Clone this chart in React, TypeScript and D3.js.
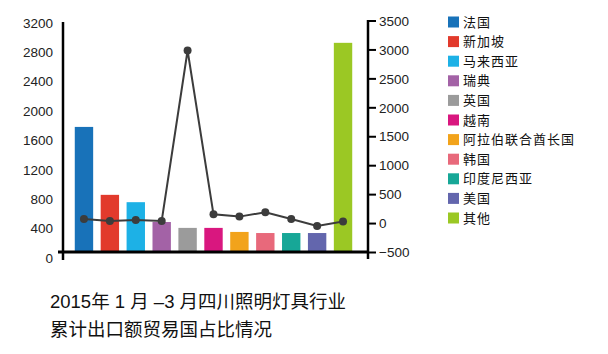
import React from "react";
import * as d3 from "d3";

const countries = [
  "法国", "新加坡", "马来西亚", "瑞典", "英国", "越南",
  "阿拉伯联合酋长国", "韩国", "印度尼西亚", "美国", "其他",
];
const barValues = [1785, 860, 760, 490, 410, 410, 355, 340, 340, 340, 2930];
const lineValues = [80, 45, 60, 45, 2990, 160, 120, 195, 80, -40, 35];
const colors = [
  "#1872b9", "#e23a2c", "#1db1e6", "#a362a6", "#9b9b9b", "#d9177f",
  "#f2a31b", "#e8697b", "#17a797", "#6366ad", "#9bc824",
];
const leftTicks = [0, 400, 800, 1200, 1600, 2000, 2400, 2800, 3200];
const rightTicks = [-500, 0, 500, 1000, 1500, 2000, 2500, 3000, 3500];

const W = 608;
const H = 354;
const BASE_Y = 252;
const FONT = "'Liberation Sans', Arial, 'Noto Sans CJK SC', sans-serif";
const CJK = "'Noto Sans CJK SC', sans-serif";

export default function App() {
  const x = d3
    .scaleBand<string>()
    .domain(countries)
    .range([67, 360])
    .paddingInner(0.29)
    .paddingOuter(0.3);
  const yLeft = d3.scaleLinear().domain([0, 3200]).range([258, 23]);
  const yRight = d3.scaleLinear().domain([-500, 3500]).range([252.5, 21]);

  const line = d3
    .line<number>()
    .x((_, i) => (x(countries[i]) || 0) + x.bandwidth() / 2)
    .y((d) => yRight(d));

  return (
    <svg
      width={W}
      height={H}
      style={{ position: "absolute", left: 0, top: 0, background: "#fff" }}
    >
      {/* bars */}
      <g>
        {countries.map((c, i) => (
          <rect
            key={c}
            x={x(c)}
            y={yLeft(barValues[i])}
            width={x.bandwidth()}
            height={BASE_Y - 1 - yLeft(barValues[i])}
            fill={colors[i]}
          />
        ))}
      </g>

      {/* left axis */}
      <line x1={63} x2={63} y1={22} y2={260} stroke="#000" strokeWidth={2.5} />
      <g fontFamily={FONT} fontSize={13.5} fill="#222" textAnchor="end">
        {leftTicks.map((t) => (
          <text key={t} x={53} y={yLeft(t)} dy="0.35em">
            {t}
          </text>
        ))}
      </g>

      {/* baseline */}
      <line x1={58} x2={367} y1={BASE_Y} y2={BASE_Y} stroke="#000" strokeWidth={3} />

      {/* right axis */}
      <line x1={368} x2={368} y1={20} y2={259} stroke="#000" strokeWidth={2.5} />
      <g fontFamily={FONT} fontSize={13.5} fill="#222">
        {rightTicks.map((t) => (
          <g key={t}>
            <line x1={368} x2={376} y1={yRight(t)} y2={yRight(t)} stroke="#000" strokeWidth={2} />
            <text x={379} y={yRight(t)} dy="0.35em">
              {t === -500 ? "\u2212500" : t}
            </text>
          </g>
        ))}
      </g>

      {/* line series */}
      <path d={line(lineValues) || ""} fill="none" stroke="#3c3c3c" strokeWidth={2} />
      {lineValues.map((v, i) => (
        <circle
          key={i}
          cx={(x(countries[i]) || 0) + x.bandwidth() / 2}
          cy={yRight(v)}
          r={4}
          fill="#3c3c3c"
        />
      ))}

      {/* legend */}
      <g fontFamily={CJK} fontSize={13} fill="#111" letterSpacing={1}>
        {countries.map((c, i) => (
          <g key={c} transform={`translate(448, ${22 + i * 19.6})`}>
            <rect x={0} y={-5.5} width={11} height={11} fill={colors[i]} />
            <text x={15} y={0} dy="0.35em">
              {c}
            </text>
          </g>
        ))}
      </g>

      {/* title */}
      <g fontFamily={FONT} fontSize={18.5} fill="#111">
        <text x={50} y={302} dy="0.35em">2015年 1 月 –3 月四川照明灯具行业</text>
        <text x={50} y={330} dy="0.35em">累计出口额贸易国占比情况</text>
      </g>
    </svg>
  );
}
